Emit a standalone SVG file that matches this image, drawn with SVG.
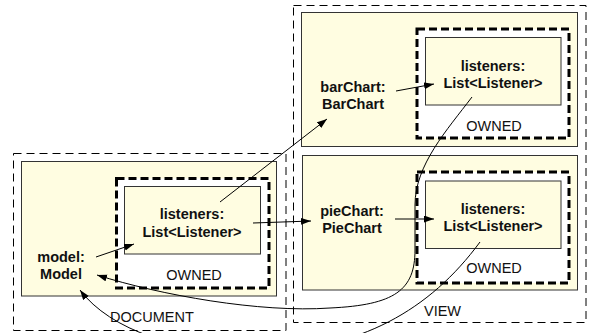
<svg xmlns="http://www.w3.org/2000/svg" width="589" height="333" viewBox="0 0 589 333">
<style>
  .region { fill: none; stroke: #000; stroke-width: 1; stroke-dasharray: 8 5; }
  .obj { fill: #FFFDE1; stroke: #333; stroke-width: 1; }
  .owned { fill: #fff; stroke: #000; stroke-width: 3; stroke-dasharray: 8 4; }
  .lbl { font-family: "Liberation Sans", Arial, sans-serif; font-size: 14.5px; font-weight: bold; fill: #111; text-anchor: middle; }
  .reg { font-family: "Liberation Sans", Arial, sans-serif; font-size: 14.5px; fill: #111; }
  .mid { text-anchor: middle; }
  .conn { fill: none; stroke: #000; stroke-width: 1; }
</style>
<defs>
  <marker id="arr" markerUnits="userSpaceOnUse" markerWidth="11" markerHeight="8" refX="10" refY="3.5" orient="auto">
    <path d="M0,0 L10,3.5 L0,7 z" fill="#000"/>
  </marker>
</defs>
<rect width="589" height="333" fill="#fff"/>

<g id="document">
  <rect class="region" x="13.5" y="153.5" width="272.5" height="177"/>
  <text class="reg" x="110" y="322">DOCUMENT</text>
</g>
<g id="view">
  <rect class="region" x="293.5" y="5.5" width="292.5" height="317"/>
  <text class="reg" x="424" y="316">VIEW</text>
</g>

<g id="model">
  <rect class="obj" x="21.5" y="161.5" width="255" height="134.5"/>
  <text class="lbl" x="61" y="262">model:</text>
  <text class="lbl" x="61" y="279">Model</text>
</g>
<g id="model-owned">
  <rect class="owned" x="116.5" y="178.5" width="152.5" height="109.5"/>
  <text class="reg mid" x="194" y="280">OWNED</text>
</g>
<g id="model-listeners">
  <rect class="obj" x="124.5" y="186.5" width="136" height="67.5"/>
  <text class="lbl" x="192" y="219">listeners:</text>
  <text class="lbl" x="192" y="237">List&lt;Listener&gt;</text>
</g>

<g id="barChart">
  <rect class="obj" x="301.5" y="12.5" width="276" height="134"/>
  <text class="lbl" x="353" y="92">barChart:</text>
  <text class="lbl" x="353" y="109">BarChart</text>
</g>
<g id="barChart-owned">
  <rect class="owned" x="417" y="29" width="152" height="109"/>
  <text class="reg mid" x="494" y="131">OWNED</text>
</g>
<g id="barChart-listeners">
  <rect class="obj" x="425.5" y="37.5" width="135.5" height="67.5"/>
  <text class="lbl" x="493" y="71">listeners:</text>
  <text class="lbl" x="493" y="88">List&lt;Listener&gt;</text>
</g>

<g id="pieChart">
  <rect class="obj" x="302.5" y="155.5" width="275" height="134.5"/>
  <text class="lbl" x="352" y="216">pieChart:</text>
  <text class="lbl" x="352" y="233">PieChart</text>
</g>
<g id="pieChart-owned">
  <rect class="owned" x="417" y="172" width="152" height="111"/>
  <text class="reg mid" x="494" y="273">OWNED</text>
</g>
<g id="pieChart-listeners">
  <rect class="obj" x="425.5" y="181" width="135.5" height="67.5"/>
  <text class="lbl" x="493" y="214">listeners:</text>
  <text class="lbl" x="493" y="231">List&lt;Listener&gt;</text>
</g>

<g id="connectors">
  <path class="conn" d="M96,257 L134,244" marker-end="url(#arr)"/>
  <path class="conn" d="M220,202 L327,119" marker-end="url(#arr)"/>
  <path class="conn" d="M253,223 L311,221" marker-end="url(#arr)"/>
  <path class="conn" d="M396,91 L434,84" marker-end="url(#arr)"/>
  <path class="conn" d="M395,219 L434,219" marker-end="url(#arr)"/>
  <path class="conn" d="M472,97 C447,130 415,165 415,205 L415,250 C415,290 395,305 330,308 C260,313 160,295 97,275" marker-end="url(#arr)"/>
  <path class="conn" d="M480,242 C430,310 360,350 260,352 C180,354 110,330 80,290" marker-end="url(#arr)"/>
</g>
</svg>
